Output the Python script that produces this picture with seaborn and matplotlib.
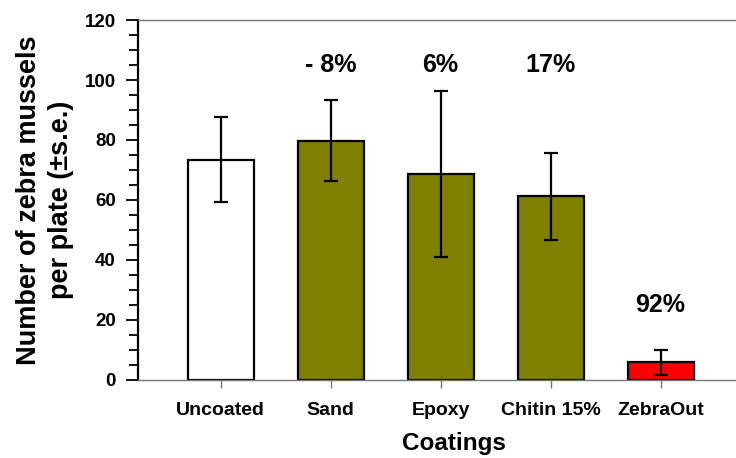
import matplotlib
matplotlib.use("Agg")
import matplotlib.pyplot as plt
import seaborn as sns
import pandas as pd
from matplotlib.ticker import MultipleLocator

# Mean zebra mussel counts per plate and standard errors
coatings = ["Uncoated", "Sand", "Epoxy", "Chitin 15%", "ZebraOut"]
mean_counts = [73.5, 79.7, 68.7, 61.3, 5.9]
std_errors = [14.2, 13.5, 27.6, 14.5, 4.1]
reduction_labels = ["", "- 8%", "6%", "17%", "92%"]
label_heights = [None, 105, 105, 105, 25]
bar_colors = ["#ffffff", "#808000", "#808000", "#808000", "#ff0000"]

df = pd.DataFrame({"Coating": coatings, "Count": mean_counts})

sns.set_style("white")
plt.rcParams["font.family"] = ["Liberation Sans", "DejaVu Sans"]
plt.rcParams["font.weight"] = "bold"
plt.rcParams["text.color"] = "black"
plt.rcParams["axes.labelcolor"] = "black"
plt.rcParams["xtick.labelcolor"] = "black"
plt.rcParams["ytick.labelcolor"] = "black"

fig = plt.figure(figsize=(7.36, 4.58), dpi=100)
ax = fig.add_axes([138 / 736, 78 / 458, 632 / 736, 360 / 458])

sns.barplot(data=df, x="Coating", y="Count", hue="Coating",
            palette=bar_colors, saturation=1, width=0.6,
            edgecolor="black", linewidth=1.6, legend=False, ax=ax,
            zorder=2)

ax.errorbar(range(len(coatings)), mean_counts, yerr=std_errors,
            fmt="none", ecolor="black", elinewidth=1.6, capsize=5,
            capthick=1.6, zorder=3)

for i, (txt, h) in enumerate(zip(reduction_labels, label_heights)):
    if txt:
        ax.text(i, h, txt, ha="center", va="center", fontsize=18,
                fontweight="bold", color="black")

ax.set_xlim(-0.75, 4.995)
ax.set_ylim(0, 120)
ax.yaxis.set_major_locator(MultipleLocator(20))
ax.yaxis.set_minor_locator(MultipleLocator(5))

ax.spines["left"].set_color("black")
ax.spines["left"].set_linewidth(1.6)
for side in ("bottom", "top"):
    ax.spines[side].set_color("#777777")
    ax.spines[side].set_linewidth(1.0)
ax.spines["right"].set_visible(False)

ax.tick_params(axis="y", which="major", direction="out", length=9,
               width=1.3, color="black", pad=7, labelsize=13.5, left=True)
ax.tick_params(axis="y", which="minor", direction="out", length=6.5,
               width=1.3, color="black", left=True)
ax.tick_params(axis="x", which="major", direction="out", length=6,
               width=1.0, color="#777777", pad=10, labelsize=14,
               bottom=True)
for lbl in ax.get_xticklabels() + ax.get_yticklabels():
    lbl.set_fontweight("bold")

ax.set_xlabel("Coatings", fontsize=17.5, fontweight="bold", labelpad=9)
ax.set_ylabel("Number of zebra mussels\nper plate (\u00b1s.e.)",
              fontsize=19.5, fontweight="bold", labelpad=8,
              linespacing=1.3)

fig.savefig("out.png", dpi=100)
